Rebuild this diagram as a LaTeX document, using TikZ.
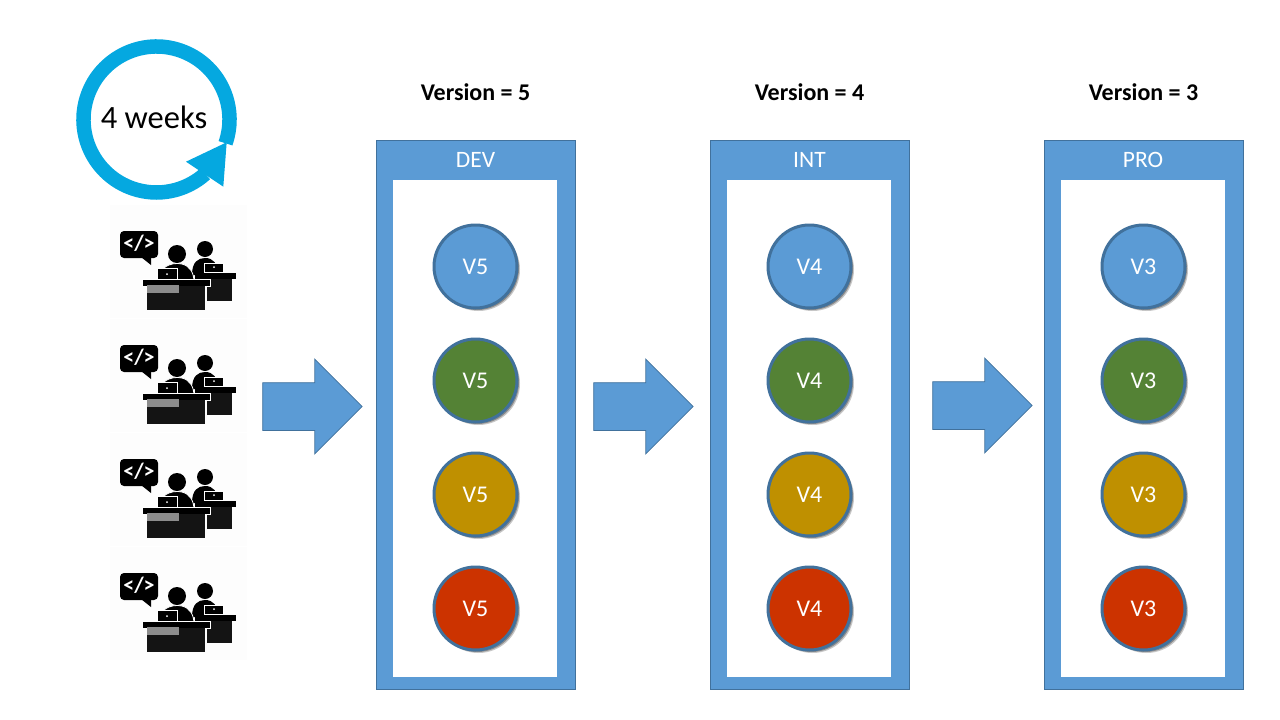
\documentclass[tikz,border=0pt]{standalone}
\usepackage{fontspec}
\setmainfont{Carlito}
\usetikzlibrary{shapes.arrows, positioning, shadows}
\definecolor{boxblue}{HTML}{5B9BD5}
\definecolor{edgeblue}{HTML}{41719C}
\definecolor{ringblue}{HTML}{05A8E0}
\definecolor{teamgreen}{HTML}{548235}
\definecolor{teamyellow}{HTML}{BF9000}
\definecolor{teamred}{HTML}{CC3300}

\begin{document}
\begin{tikzpicture}[
    x=1pt, y=-1pt,
    stagebox/.style={draw=edgeblue, line width=1pt, fill=boxblue, minimum width=199.5pt, minimum height=549.5pt, inner sep=0pt},
    slotbox/.style={fill=white, minimum width=164pt, minimum height=497pt, inner sep=0pt},
    stagename/.style={text=white, font=\fontsize{23.5}{26}\selectfont},
    version/.style={font=\fontsize{24}{26}\selectfont\bfseries},
    team/.style={circle, draw=edgeblue, line width=3pt, minimum size=83pt, inner sep=0pt, text=white,
        font=\fontsize{24}{26}\selectfont,
        drop shadow={shadow xshift=3pt, shadow yshift=-3pt, opacity=.22, fill=black},
        drop shadow={shadow xshift=2pt, shadow yshift=-2pt, opacity=.3, fill=black}},
    flow/.style={single arrow, draw=edgeblue, line width=.75pt, fill=boxblue, minimum height=99.5pt,
        single arrow head extend=23.5pt, single arrow tip angle=90, inner xsep=0pt, inner ysep=23.5pt},
    devs/.pic={
        \fill[black!.6] (110,205) rectangle (247,318);
        % Speech bubble
        \fill[rounded corners=4pt] (120,231) rectangle (158,258);
        \fill (141,257) -- (151,265) -- (151,257) -- cycle;
        \node[text=white, font=\fontsize{22}{24}\selectfont\bfseries] (-code) at (139,243.5) {</>};
        % Back person and desk
        \fill (205,249) circle (8);
        \fill (192,275) .. controls (192,262) and (198,258) .. (205,258) .. controls (213,258) and (218,263) .. (218,275) -- cycle;
        \fill[draw=white, line width=.8pt] (204,263) rectangle (223,272);
        \fill[white] (214,267) circle (1);
        \fill (195,273) rectangle (236,279);
        \fill[black!92] (207,279) rectangle (232,301);
        % Front person and desk
        \fill (177,254) circle (9);
        \fill[draw=white, line width=.8pt] (164,282) -- (164,268) .. controls (170,263) and (177,263) .. (182,264) .. controls (190,266) and (194,273) .. (194,282) -- cycle;
        \fill[draw=white, line width=.8pt] (157,268) rectangle (177,279);
        \fill[white] (167,274) circle (1);
        \fill[draw=white, line width=.8pt] (142,279.5) rectangle (210,286);
        \fill[black!92] (147,286) rectangle (205,310);
        \fill[black!45] (147,284.5) rectangle (179,293);
    }
]
    \useasboundingbox (0,0) rectangle (1280,720);

    % Iteration ring
    \node[font=\fontsize{32.5}{36}\selectfont] (ring) at (154,117) {4 weeks};
    \coordinate (ringc) at (156.5,119.5);
    \draw[ringblue, line width=14.5pt] (ringc) ++(19:73) arc[start angle=19, end angle=-312, radius=73];
    \fill[ringblue] (226.7,142.3) -- (186,161.7) -- (223.3,186.7) -- cycle;

    % Development teams
    \pic (devsa) at (0,0) {devs};
    \pic (devsb) at (0,114) {devs};
    \pic (devsc) at (0,228) {devs};
    \pic (devsd) at (0,342) {devs};

    % Flow between stages
    \node[flow] (flowa) at (300.5,406.5) {};
    \node[flow] (flowb) at (631.5,406.5) {};
    \node[flow] (flowc) at (970.5,405.5) {};

    % DEV stage
    \node[version] (verdev) at (475.5,92) {Version = 5};
    \node[stagebox] (dev) at (476,415) {};
    \node[slotbox] (devslot) at (475,428.5) {};
    \node[stagename] (devname) at (475.5,160) {DEV};
    \node[team, fill=boxblue] (deva) at (475.5,266.5) {V5};
    \node[team, fill=teamgreen] (devb) at (475.5,380.5) {V5};
    \node[team, fill=teamyellow] (devc) at (475.5,494.5) {V5};
    \node[team, fill=teamred] (devd) at (475.5,608.5) {V5};

    % INT stage
    \node[version] (verint) at (809.5,92) {Version = 4};
    \node[stagebox] (int) at (810,415) {};
    \node[slotbox] (intslot) at (809,428.5) {};
    \node[stagename] (intname) at (809.5,160) {INT};
    \node[team, fill=boxblue] (inta) at (809.5,266.5) {V4};
    \node[team, fill=teamgreen] (intb) at (809.5,380.5) {V4};
    \node[team, fill=teamyellow] (intc) at (809.5,494.5) {V4};
    \node[team, fill=teamred] (intd) at (809.5,608.5) {V4};

    % PRO stage
    \node[version] (verpro) at (1143.5,92) {Version = 3};
    \node[stagebox] (pro) at (1144,415) {};
    \node[slotbox] (proslot) at (1143,428.5) {};
    \node[stagename] (proname) at (1143,160) {PRO};
    \node[team, fill=boxblue] (proa) at (1143.5,266.5) {V3};
    \node[team, fill=teamgreen] (prob) at (1143.5,380.5) {V3};
    \node[team, fill=teamyellow] (proc) at (1143.5,494.5) {V3};
    \node[team, fill=teamred] (prod) at (1143.5,608.5) {V3};
\end{tikzpicture}
\end{document}
